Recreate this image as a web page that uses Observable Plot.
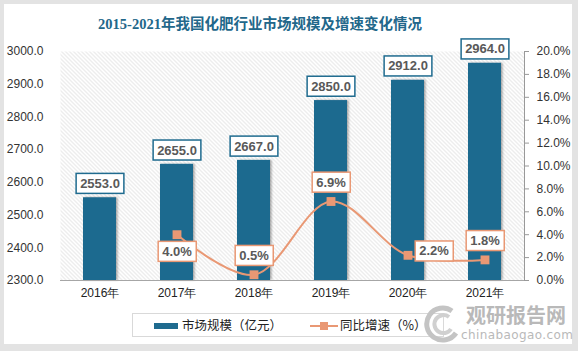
<!DOCTYPE html>
<html>
<head>
<meta charset="utf-8">
<script src="https://cdn.jsdelivr.net/npm/d3@7"></script>
<script src="https://cdn.jsdelivr.net/npm/@observablehq/plot@0.6"></script>
<style>
  html, body { margin: 0; padding: 0; background: #e3e3e3; }
  #page { position: relative; width: 578px; height: 351px; overflow: hidden; background: #e3e3e3; }
  #card { position: absolute; left: 4px; top: 4px; width: 568px; height: 340px; background: #fff; }
  #title { position: absolute; left: 0; top: 12px; width: 520px; text-align: center;
    font-family: "Liberation Serif", "Noto Sans CJK SC", serif; font-weight: bold; font-size: 14.5px; color: #22678a; }
  #chart { position: absolute; left: 0; top: 30px; }
  #legend { position: absolute; left: 132px; top: 313px; width: 312px; height: 24px; border: 1px solid #d9d9d9; box-sizing: border-box;
    font-family: "Noto Sans CJK SC", sans-serif; font-size: 12.5px; color: #222; }
  .li { position: absolute; top: 3px; line-height: 16px; }
  #wm1 { position: absolute; left: 466px; top: 305px; font-family: "Noto Sans CJK SC", sans-serif; font-weight: bold; font-size: 20px; line-height: 19px; color: #b9b9b9; }
  #wm2 { position: absolute; left: 461px; top: 328px; font-family: "DejaVu Sans", sans-serif; font-size: 12px; line-height: 14px; color: #b9b9b9; letter-spacing: 0.4px; }
  #wmlogo { position: absolute; left: 422px; top: 303px; }
</style>
</head>
<body>
<div id="page">
  <div id="card"></div>
  <div id="chart"></div>
  <div id="title">2015-2021年我国化肥行业市场规模及增速变化情况</div>
  <div id="legend">
    <div class="li" style="left:21px;top:9px;width:24px;height:6px;background:#1f6b8f;"></div>
    <div class="li" style="left:49px;">市场规模（亿元）</div>
    <div class="li" style="left:177px;top:11px;width:28px;height:2px;background:#e99874;"></div>
    <div class="li" style="left:187px;top:8px;width:8px;height:8px;background:#e99874;"></div>
    <div class="li" style="left:207px;">同比增速（%）</div>
  </div>
  <svg id="wmlogo" width="44" height="40" viewBox="0 0 44 40">
    <path d="M30 8 A16 16 0 1 0 34 30" fill="none" stroke="#c4c4c4" stroke-width="5"/>
    <path d="M27 14 A9 9 0 1 0 29 26" fill="none" stroke="#d0d0d0" stroke-width="4"/>
  </svg>
  <div id="wm1">观研报告网</div>
  <div id="wm2">chinabaogao.com</div>
</div>
<script>
const years = ["2016年", "2017年", "2018年", "2019年", "2020年", "2021年"];
const marketSize = [2553.0, 2655.0, 2667.0, 2850.0, 2912.0, 2964.0];
const growthRate = [null, 4.0, 0.5, 6.9, 2.2, 1.8];
const growthLabelPlacement = [null, "below", "above", "above", "right", "above"];
const leftTicks = [2300, 2400, 2500, 2600, 2700, 2800, 2900, 3000];
const rightTicks = [0, 2, 4, 6, 8, 10, 12, 14, 16, 18, 20];

const BLUE = "#1f6b8f";
const ORANGE = "#e99874";
const yMin = 2300, yMax = 3000, rMax = 20;
const toLeft = g => yMin + g * (yMax - yMin) / rMax;

const rows = years.map((year, i) => ({
  year, market: marketSize[i], growth: growthRate[i],
  gy: growthRate[i] == null ? null : toLeft(growthRate[i]),
  place: growthLabelPlacement[i]
}));
const lineRows = rows.filter(d => d.growth != null);

const labelFont = {fontSize: 13, fontWeight: "bold", fill: "#595959", fontFamily: "Liberation Sans, Arial, sans-serif"};

const plot = Plot.plot({
  width: 578,
  height: 270,
  marginTop: 21,
  marginBottom: 20,
  marginLeft: 60,
  marginRight: 54,
  style: {background: "transparent", fontFamily: "Liberation Sans, Arial, sans-serif", fontSize: "12px", color: "#333"},
  x: {domain: years, paddingInner: 0.57, paddingOuter: 0.285, label: null},
  y: {domain: [yMin, yMax], label: null},
  marks: [
    Plot.frame({fill: "url(#hatch)", stroke: "none"}),
    Plot.barY(rows, {x: "year", y1: yMin, y2: "market", fill: BLUE}),
    Plot.ruleY([yMin], {stroke: "#a6a6a6", strokeWidth: 1.2}),
    Plot.axisY(leftTicks, {anchor: "left", tickSize: 0, tickPadding: 17, tickFormat: d3.format(".1f"), fontSize: 12, fill: "#333"}),
    Plot.axisY(rightTicks.map(toLeft), {anchor: "right", tickSize: 4, tickPadding: 8, stroke: "#999",
      tickFormat: v => ((v - yMin) * rMax / (yMax - yMin)).toFixed(1) + "%", fontSize: 12, fill: "#333"}),
    Plot.frame({anchor: "right", stroke: "#999"}),
    Plot.axisX({tickSize: 0, tickPadding: 8, fontSize: 12, fill: "#222"}),
    Plot.line(lineRows, {x: "year", y: "gy", stroke: ORANGE, strokeWidth: 2, curve: "catmull-rom"}),
    Plot.dot(lineRows, {x: "year", y: "gy", symbol: "square", r: 5, fill: ORANGE, stroke: "none"}),
    Plot.text(rows, {x: "year", y: "market", text: d => d.market.toFixed(1), dy: -14, ...labelFont, ariaDescription: "barlabel"}),
    Plot.text(lineRows.filter(d => d.place === "above"), {x: "year", y: "gy", text: d => d.growth.toFixed(1) + "%", dy: -19, ...labelFont, ariaDescription: "linelabel"}),
    Plot.text(lineRows.filter(d => d.place === "below"), {x: "year", y: "gy", text: d => d.growth.toFixed(1) + "%", dy: 17, ...labelFont, ariaDescription: "linelabel"}),
    Plot.text(lineRows.filter(d => d.place === "right"), {x: "year", y: "gy", text: d => d.growth.toFixed(1) + "%", dx: 26, dy: -4, ...labelFont, ariaDescription: "linelabel"})
  ]
});

document.getElementById("chart").append(plot);
const svg = d3.select(plot);
svg.insert("defs", ":first-child").html(
  `<pattern id="hatch" patternUnits="userSpaceOnUse" width="4" height="4">
     <rect width="4" height="4" fill="#ffffff"/>
     <path d="M-1,-1 L5,5 M-1,3 L1,5 M3,-1 L5,1" stroke="#d6d6d6" stroke-width="0.9"/>
   </pattern>
   <filter id="barshadow" x="-20%" y="-5%" width="150%" height="115%">
     <feDropShadow dx="1.5" dy="0" stdDeviation="0.8" flood-color="#000" flood-opacity="0.35"/>
   </filter>`
);
svg.selectAll('g[aria-label="bar"] rect').attr("filter", "url(#barshadow)");

function boxText(selector, color) {
  svg.selectAll(`g[aria-description="${selector}"] text`).each(function () {
    const b = this.getBBox();
    d3.select(this.parentNode).insert("rect", () => this)
      .attr("x", b.x - 4).attr("y", b.y - 2.5)
      .attr("width", b.width + 8).attr("height", b.height + 5)
      .attr("fill", "#fff").attr("stroke", color).attr("stroke-width", 1.5)
      .attr("transform", this.getAttribute("transform"));
  });
}
boxText("barlabel", BLUE);
boxText("linelabel", ORANGE);
</script>
</body>
</html>
